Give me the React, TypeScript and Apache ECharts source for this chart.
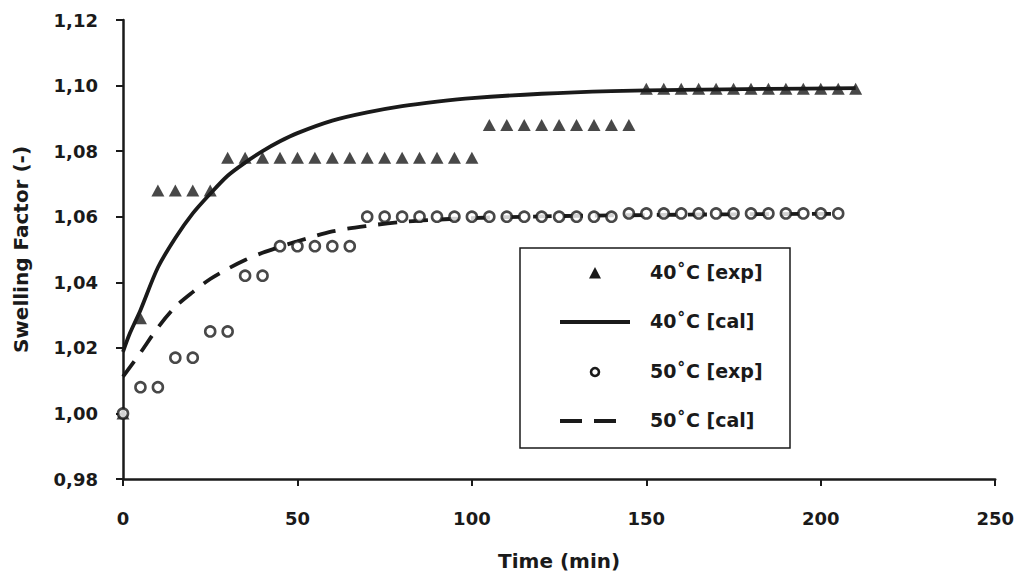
import React, { useEffect, useRef } from "react";
import * as echarts from "echarts";

const exp40Time = [0, 5, 10, 15, 20, 25, 30, 35, 40, 45, 50, 55, 60, 65, 70, 75, 80, 85, 90, 95, 100, 105, 110, 115, 120, 125, 130, 135, 140, 145, 150, 155, 160, 165, 170, 175, 180, 185, 190, 195, 200, 205, 210];
const exp40Val = [1.0, 1.029, 1.068, 1.068, 1.068, 1.068,
  1.078, 1.078, 1.078, 1.078, 1.078, 1.078, 1.078, 1.078, 1.078, 1.078, 1.078, 1.078, 1.078, 1.078, 1.078,
  1.088, 1.088, 1.088, 1.088, 1.088, 1.088, 1.088, 1.088, 1.088,
  1.099, 1.099, 1.099, 1.099, 1.099, 1.099, 1.099, 1.099, 1.099, 1.099, 1.099, 1.099, 1.099];

const exp50Time = [0, 5, 10, 15, 20, 25, 30, 35, 40, 45, 50, 55, 60, 65, 70, 75, 80, 85, 90, 95, 100, 105, 110, 115, 120, 125, 130, 135, 140, 145, 150, 155, 160, 165, 170, 175, 180, 185, 190, 195, 200, 205];
const exp50Val = [1.0, 1.008, 1.008, 1.017, 1.017, 1.025, 1.025, 1.042, 1.042,
  1.051, 1.051, 1.051, 1.051, 1.051,
  1.06, 1.06, 1.06, 1.06, 1.06, 1.06, 1.06, 1.06, 1.06, 1.06, 1.06, 1.06, 1.06, 1.06, 1.06,
  1.061, 1.061, 1.061, 1.061, 1.061, 1.061, 1.061, 1.061, 1.061, 1.061, 1.061, 1.061, 1.061];

const cal40Time = [0, 2, 5, 10, 15, 20, 25, 30, 35, 40, 45, 50, 60, 70, 80, 90, 100, 120, 140, 160, 185, 210];
const cal40Val = [1.0188, 1.0245, 1.0315, 1.0445, 1.0535, 1.061, 1.067, 1.0725, 1.0765, 1.08, 1.083, 1.0855, 1.0893, 1.0918, 1.0937, 1.0951, 1.0962, 1.0975, 1.0983, 1.0987, 1.099, 1.0992];

const cal50Time = [0, 5, 10, 15, 20, 25, 30, 35, 40, 45, 50, 60, 70, 80, 90, 100, 120, 140, 170, 205];
const cal50Val = [1.0112, 1.0185, 1.0262, 1.0325, 1.037, 1.041, 1.0441, 1.0468, 1.049, 1.0508, 1.0525, 1.0555, 1.0572, 1.0584, 1.0591, 1.0596, 1.0601, 1.0604, 1.0607, 1.0609];

const seriesNames = ["40˚C [exp]", "40˚C [cal]", "50˚C [exp]", "50˚C [cal]"];

const xTicks = { min: 0, max: 250, interval: 50 };
const yTicks = { min: 0.98, max: 1.12, interval: 0.02 };

const zip = (a: number[], b: number[]) => a.map((v, i) => [v, b[i]]);

const INK = "#1a1a1a";
const FONT = "DejaVu Sans";

export default function App() {
  const ref = useRef<HTMLDivElement>(null);
  useEffect(() => {
    if (!ref.current) return;
    const chart = echarts.init(ref.current, null, { renderer: "svg" });
    const legendText = (text: string, y: number) => ({
      type: "text",
      left: 650,
      top: y - 11,
      style: { text, fill: INK, font: `bold 19px "${FONT}"`, textVerticalAlign: "top" },
      z: 10,
    });
    chart.setOption({
      animation: false,
      backgroundColor: "#ffffff",
      textStyle: { fontFamily: FONT },
      grid: { left: 123, right: 18, top: 20, bottom: 98, containLabel: false },
      xAxis: {
        type: "value",
        min: xTicks.min,
        max: xTicks.max,
        interval: xTicks.interval,
        name: "Time (min)",
        nameLocation: "middle",
        nameGap: 72,
        nameTextStyle: { fontFamily: FONT, fontWeight: "bold", fontSize: 20, color: INK },
        axisLine: { lineStyle: { color: INK, width: 2.5 } },
        axisTick: { show: true, length: 7, inside: false, lineStyle: { color: INK, width: 2 } },
        axisLabel: { margin: 30, fontFamily: FONT, fontWeight: "bold", fontSize: 18, color: INK },
        splitLine: { show: false },
      },
      yAxis: {
        type: "value",
        min: yTicks.min,
        max: yTicks.max,
        interval: yTicks.interval,
        name: "Swelling Factor (-)",
        nameLocation: "middle",
        nameGap: 92,
        nameTextStyle: { fontFamily: FONT, fontWeight: "bold", fontSize: 20, color: INK },
        axisLine: { show: true, lineStyle: { color: INK, width: 2.5 } },
        axisTick: { show: true, length: 7, inside: false, lineStyle: { color: INK, width: 2 } },
        axisLabel: {
          margin: 25,
          fontFamily: FONT,
          fontWeight: "bold",
          fontSize: 18,
          color: INK,
          formatter: (v: number) => v.toFixed(2).replace(".", ","),
        },
        splitLine: { show: false },
      },
      graphic: [
        {
          type: "rect",
          shape: { x: 520, y: 248, width: 270, height: 200 },
          style: { fill: "#ffffff", stroke: INK, lineWidth: 1.5 },
          z: 9,
        },
        {
          type: "polygon",
          shape: { points: [[589, 278.5], [601, 278.5], [595, 267]] },
          style: { fill: INK },
          z: 10,
        },
        {
          type: "line",
          shape: { x1: 560, y1: 322, x2: 630, y2: 322 },
          style: { stroke: INK, lineWidth: 3.8 },
          z: 10,
        },
        {
          type: "circle",
          shape: { cx: 595, cy: 372, r: 4 },
          style: { fill: "#ffffff", stroke: INK, lineWidth: 2.6 },
          z: 10,
        },
        {
          type: "line",
          shape: { x1: 560, y1: 421, x2: 616, y2: 421 },
          style: { stroke: INK, lineWidth: 3.8, lineDash: [22, 12] },
          z: 10,
        },
        legendText(seriesNames[0], 273),
        legendText(seriesNames[1], 322),
        legendText(seriesNames[2], 372),
        legendText(seriesNames[3], 421),
      ],
      series: [
        {
          name: seriesNames[1],
          type: "line",
          smooth: 0.3,
          symbol: "none",
          showSymbol: false,
          data: zip(cal40Time, cal40Val),
          lineStyle: { color: INK, width: 3.8 },
          itemStyle: { color: INK },
          z: 2,
        },
        {
          name: seriesNames[3],
          type: "line",
          smooth: 0.3,
          symbol: "none",
          showSymbol: false,
          data: zip(cal50Time, cal50Val),
          lineStyle: { color: INK, width: 3.8, type: [19, 12] },
          itemStyle: { color: INK },
          z: 2,
        },
        {
          name: seriesNames[0],
          type: "scatter",
          symbol: "triangle",
          symbolSize: [13, 12],
          data: zip(exp40Time, exp40Val),
          itemStyle: { color: INK },
          z: 3,
        },
        {
          name: seriesNames[2],
          type: "scatter",
          symbol: "circle",
          symbolSize: 10,
          data: zip(exp50Time, exp50Val),
          itemStyle: { color: "#ffffff", borderColor: INK, borderWidth: 2.6 },
          z: 3,
        },
      ],
    });
    return () => chart.dispose();
  }, []);
  return (
    <div
      ref={ref}
      style={{ position: "fixed", left: 0, top: 0, width: 1017, height: 577, background: "#fff" }}
    />
  );
}
